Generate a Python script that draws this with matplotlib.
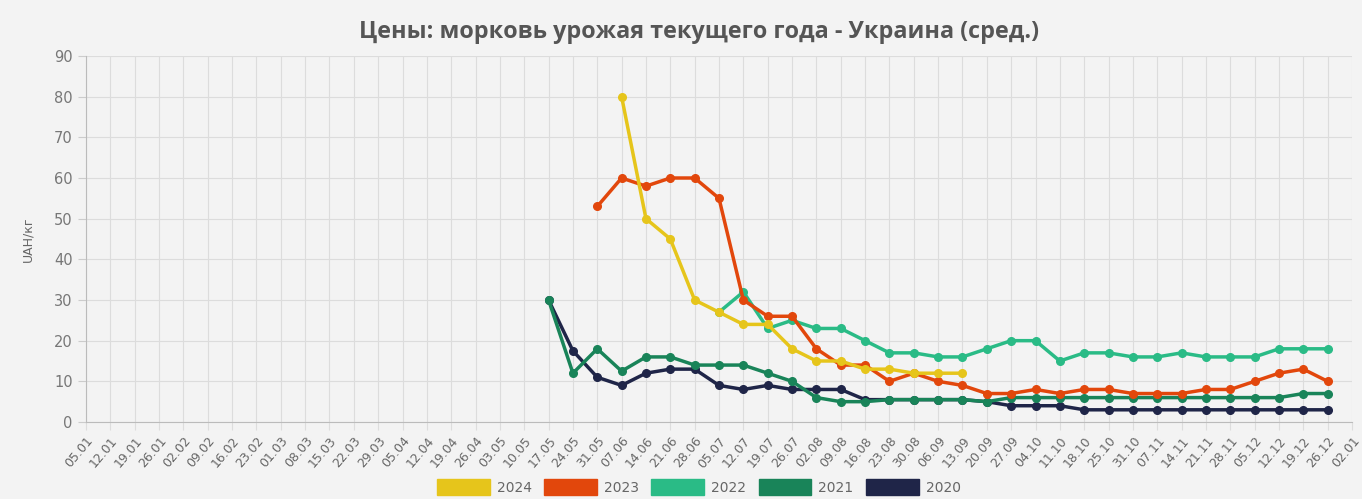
import matplotlib
matplotlib.use("Agg")
import matplotlib.pyplot as plt
from matplotlib.patches import Patch

# weekly x labels
weeks = ["05.01", "12.01", "19.01", "26.01", "02.02", "09.02", "16.02", "23.02",
         "01.03", "08.03", "15.03", "22.03", "29.03", "05.04", "12.04", "19.04",
         "26.04", "03.05", "10.05", "17.05", "24.05", "31.05", "07.06", "14.06",
         "21.06", "28.06", "05.07", "12.07", "19.07", "26.07", "02.08", "09.08",
         "16.08", "23.08", "30.08", "06.09", "13.09", "20.09", "27.09", "04.10",
         "11.10", "18.10", "25.10", "31.10", "07.11", "14.11", "21.11", "28.11",
         "05.12", "12.12", "19.12", "26.12", "02.01"]

# prices, UAH/kg; each series starts at the given week
start_2024 = "07.06"
y2024 = [80, 50, 45, 30, 27, 24, 24, 18, 15, 15, 13, 13, 12, 12, 12]

start_2023 = "31.05"
y2023 = [53, 60, 58, 60, 60, 55, 30, 26, 26, 18, 14, 14, 10, 12, 10, 9,
         7, 7, 8, 7, 8, 8, 7, 7, 7, 8, 8, 10, 12, 13, 10]

start_2022 = "05.07"
y2022 = [27, 32, 23, 25, 23, 23, 20, 17, 17, 16, 16, 18, 20, 20, 15, 17,
         17, 16, 16, 17, 16, 16, 16, 18, 18, 18]

start_2021 = "17.05"
y2021 = [30, 12, 18, 12.5, 16, 16, 14, 14, 14, 12, 10, 6, 5, 5, 5.5, 5.5,
         5.5, 5.5, 5, 6, 6, 6, 6, 6, 6, 6, 6, 6, 6, 6, 6, 7, 7]

start_2020 = "17.05"
y2020 = [30, 17.5, 11, 9, 12, 13, 13, 9, 8, 9, 8, 8, 8, 5.5, 5.5, 5.5,
         5.5, 5.5, 5, 4, 4, 4, 3, 3, 3, 3, 3, 3, 3, 3, 3, 3, 3]

series = [
    ("2024", start_2024, y2024, "#e6c51b"),
    ("2023", start_2023, y2023, "#e2470c"),
    ("2022", start_2022, y2022, "#2abb86"),
    ("2021", start_2021, y2021, "#198459"),
    ("2020", start_2020, y2020, "#1f2548"),
]

bg = "#f3f3f3"
fig = plt.figure(figsize=(13.62, 4.99), dpi=100, facecolor=bg)
ax = fig.add_axes([86 / 1362, 1 - 422 / 499, (1352 - 86) / 1362, (422 - 56) / 499])
ax.set_facecolor(bg)

for k, (name, start, vals, col) in enumerate(series):
    i0 = weeks.index(start)
    xs = list(range(i0, i0 + len(vals)))
    ax.plot(xs, vals, color=col, lw=2.5, marker="o", ms=5.5,
            zorder=10 - k, clip_on=False)

ax.set_xlim(0, 52)
ax.set_ylim(0, 90)
ax.set_xticks(range(len(weeks)))
ax.set_xticklabels(weeks, rotation=50, ha="right", rotation_mode="anchor",
                   fontsize=9, color="#666666")
ax.set_yticks(range(0, 91, 10))
ax.tick_params(axis="y", labelsize=10.5, labelcolor="#777777", length=6, color="#cccccc")
ax.tick_params(axis="x", length=6, color="#dddddd", pad=3)
ax.grid(True, color="#dcdcdc", lw=0.8)
ax.set_axisbelow(True)
for s in ["top", "right"]:
    ax.spines[s].set_visible(False)
ax.spines["left"].set_color("#bbbbbb")
ax.spines["bottom"].set_color("#bbbbbb")
ax.set_ylabel("UAH/кг", fontsize=9, color="#666666", labelpad=14)

fig.text(0.513, 0.935, "Цены: морковь урожая текущего года - Украина (сред.)",
         ha="center", va="center", fontsize=16.8, fontweight="bold",
         color="#555555", family="Open Sans")

handles = [Patch(facecolor=c, edgecolor=c) for _, _, _, c in series]
labels = [n for n, _, _, _ in series]
fig.legend(handles, labels, loc="center", bbox_to_anchor=(0.513, 0.024), ncol=5,
           frameon=False, fontsize=10, handlelength=3.8, handleheight=1.3,
           columnspacing=0.9, handletextpad=0.5, labelcolor="#666666")

fig.savefig("out.png", dpi=100, facecolor=bg)
